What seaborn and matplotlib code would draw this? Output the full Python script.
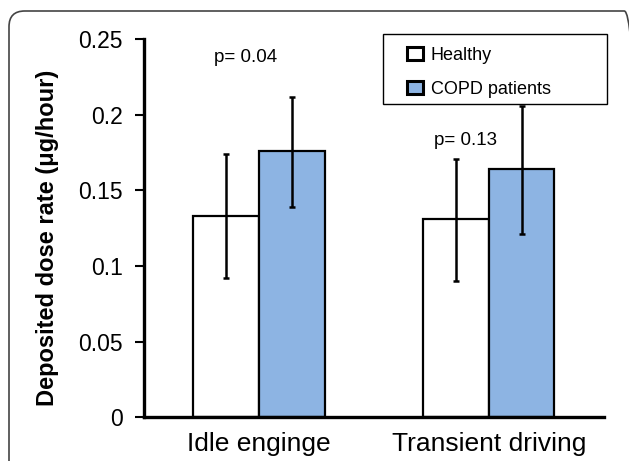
import numpy as np
import pandas as pd
import matplotlib
matplotlib.use('Agg')
import matplotlib.pyplot as plt
import seaborn as sns
from matplotlib.patches import FancyBboxPatch, Patch, Rectangle

# data
conditions = ['Idle enginge', 'Transient driving']
groups = ['Healthy', 'COPD patients']
healthy_mean = [0.133, 0.131]
copd_mean = [0.176, 0.164]
healthy_lo = [0.092, 0.090]
healthy_hi = [0.174, 0.171]
copd_lo = [0.139, 0.121]
copd_hi = [0.212, 0.206]
p_labels = ['p= 0.04', 'p= 0.13']
p_heights = [0.238, 0.183]
p_offsets = [-0.06, -0.10]
yticks = [0, 0.05, 0.1, 0.15, 0.2, 0.25]
ytick_labels = ['0', '0.05', '0.1', '0.15', '0.2', '0.25']

df = pd.DataFrame({
    'condition': conditions * 2,
    'group': [groups[0]] * 2 + [groups[1]] * 2,
    'dose': healthy_mean + copd_mean,
})

sns.set_style('ticks')
plt.rcParams['font.family'] = ['Liberation Sans', 'DejaVu Sans']
plt.rcParams.update({'text.color': 'black', 'axes.labelcolor': 'black',
                     'xtick.color': 'black', 'ytick.color': 'black'})
colors = ['white', '#8DB4E3']

fig = plt.figure(figsize=(6.29, 4.61), dpi=100)
ax = fig.add_axes([0.229, 0.095, 0.731, 0.820])
sns.barplot(data=df, x='condition', y='dose', hue='group', hue_order=groups,
            palette=colors, edgecolor='black', linewidth=1.6, saturation=1,
            width=0.57, gap=0, errorbar=None, legend=False, ax=ax)

# error bars
means = [healthy_mean, copd_mean]
lows = [healthy_lo, copd_lo]
highs = [healthy_hi, copd_hi]
for cont, m, lo, hi in zip(ax.containers, means, lows, highs):
    xs = [b.get_x() + b.get_width() / 2 for b in cont]
    m = np.array(m)
    err = [m - np.array(lo), np.array(hi) - m]
    ax.errorbar(xs, m, yerr=err, fmt='none', ecolor='black',
                elinewidth=1.8, capsize=2.5, capthick=1.8, zorder=3)

# p-values
for i, (lab, h) in enumerate(zip(p_labels, p_heights)):
    ax.text(i + p_offsets[i], h, lab, ha='center', va='center', fontsize=13.5)

ax.set_xlim(-0.5, 1.5)
ax.set_ylim(0, 0.25)
ax.set_yticks(yticks)
ax.set_yticklabels(ytick_labels, fontsize=16.5)
ax.tick_params(axis='y', length=6.5, width=1.5, direction='out', pad=9)
ax.tick_params(axis='x', length=0, labelsize=19, pad=11)
ax.set_xlabel('')
ax.set_ylabel('Deposited dose rate (μg/hour)', fontsize=17, fontweight='bold')
ax.yaxis.set_label_coords(-0.186, 0.475)
sns.despine(ax=ax)
for s in ['left', 'bottom']:
    ax.spines[s].set_linewidth(2.4)
    ax.spines[s].set_color('black')

# legend with a separate frame box
handles = [Patch(facecolor=c, edgecolor='black', linewidth=2.2) for c in colors]
leg = ax.legend(handles, groups, loc='upper left', bbox_to_anchor=(0.572, 0.979),
                fontsize=13, frameon=False, borderpad=0, borderaxespad=0,
                handlelength=0.9, handleheight=0.75, handletextpad=0.4,
                labelspacing=0.92)
leg.set_zorder(6)
ax.add_patch(Rectangle((0.519, 0.829), 0.487, 0.185, transform=ax.transAxes,
                       facecolor='white', edgecolor='black', linewidth=1.0,
                       clip_on=False, zorder=5))

# rounded border around the figure
W, H = 629, 461
fig.patches.append(FancyBboxPatch((9 / W, -0.2), 640 / W - 9 / W, 1.2 - 11 / H,
                                  boxstyle='round,pad=0,rounding_size=0.025',
                                  mutation_aspect=W / H, transform=fig.transFigure,
                                  facecolor='none', edgecolor='#444444', linewidth=1.2))

fig.savefig('out.png', dpi=100)
